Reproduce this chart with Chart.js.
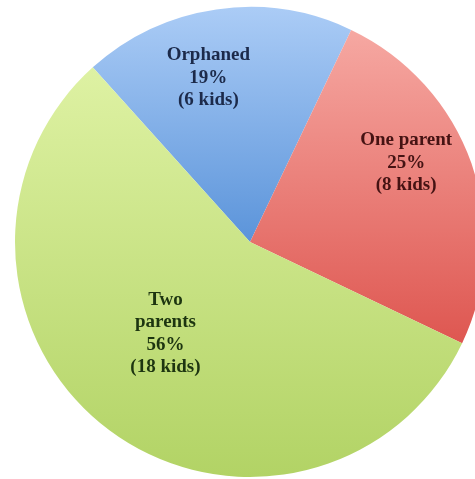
<!DOCTYPE html>
<html>
<head>
<meta charset="utf-8">
<script src="https://cdn.jsdelivr.net/npm/chart.js@4/dist/chart.umd.min.js"></script>
<style>
    html, body { margin: 0; padding: 0; overflow: hidden; background: #fff; }
    #wrap { position: absolute; left: 0; top: 0; width: 500px; height: 484px; }
</style>
</head>
<body>
<div id="wrap"><canvas id="pieChart"></canvas></div>
<script>
// data
const categories = ['Orphaned', 'One parent', 'Two parents'];
const kids = [6, 8, 18];
const percentLabels = ['19%', '25%', '56%'];
const kidLabels = ['(6 kids)', '(8 kids)', '(18 kids)'];
const labelLines = [['Orphaned'], ['One parent'], ['Two', 'parents']];

// gradient stops (top -> bottom of the pie)
const sliceStops = [
    [[0, '#abccf6'], [0.5, '#5b94da'], [1, '#3a74c4']],
    [[0, '#f7aaa4'], [0.05, '#f6a8a2'], [0.72, '#de5650'], [1, '#d44a44']],
    [[0, '#e2f4aa'], [0.09, '#e0f3a6'], [1, '#b2d365']]
];
const textColors = ['#1c2a4a', '#451313', '#1d3510'];

// posisi label: geser sudut (derajat) dan jarak relatif radius
const labelSpots = [
    { shift: -6, frac: 0.72 },
    { shift: -7.4, frac: 0.745 },
    { shift: 6, frac: 0.53 }
];

function sliceGradient(context) {
    const chart = context.chart;
    const area = chart.chartArea;
    if (!area) return sliceStops[context.dataIndex][0][1];
    const g = chart.ctx.createLinearGradient(0, area.top, 0, area.bottom);
    sliceStops[context.dataIndex].forEach(s => g.addColorStop(s[0], s[1]));
    return g;
}

const sliceLabels = {
    id: 'sliceLabels',
    afterDatasetsDraw(chart) {
        const ctx = chart.ctx;
        const arcs = chart.getDatasetMeta(0).data;
        ctx.save();
        ctx.font = 'bold 19px "Liberation Serif", serif';
        ctx.textAlign = 'center';
        ctx.textBaseline = 'middle';
        arcs.forEach((arc, i) => {
            const p = arc.getProps(['x', 'y', 'startAngle', 'endAngle', 'outerRadius'], true);
            const spot = labelSpots[i];
            const ang = (p.startAngle + p.endAngle) / 2 + spot.shift * Math.PI / 180;
            const cx = p.x + Math.cos(ang) * p.outerRadius * spot.frac;
            const cy = p.y + Math.sin(ang) * p.outerRadius * spot.frac;
            const lines = labelLines[i].concat([percentLabels[i], kidLabels[i]]);
            const lh = 22.5;
            const y0 = cy - (lines.length - 1) * lh / 2;
            ctx.fillStyle = textColors[i];
            lines.forEach((t, k) => ctx.fillText(t, cx, y0 + k * lh));
        });
        ctx.restore();
    }
};

new Chart(document.getElementById('pieChart'), {
    type: 'pie',
    data: {
        labels: categories,
        datasets: [{
            data: kids,
            backgroundColor: sliceGradient,
            borderWidth: 0
        }]
    },
    options: {
        responsive: true,
        maintainAspectRatio: false,
        animation: false,
        rotation: -42,
        layout: { padding: 7 },
        plugins: {
            legend: { display: false },
            tooltip: { enabled: false }
        }
    },
    plugins: [sliceLabels]
});
</script>
</body>
</html>
